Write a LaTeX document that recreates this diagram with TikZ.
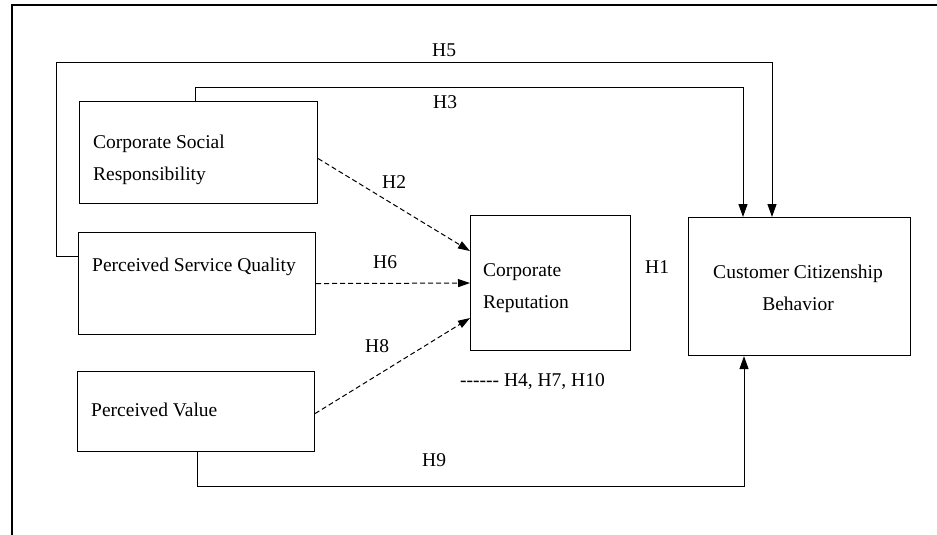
\documentclass[tikz,border=0pt]{standalone}
\usepackage{fontspec}
\setmainfont{Liberation Serif}[Ligatures=TeXOff]
\usetikzlibrary{arrows.meta,calc}
\begin{document}
\begin{tikzpicture}[x=1pt,y=-1pt,
  every node/.style={font=\fontsize{19.5}{31.5}\selectfont},
  box/.style={draw,line width=1.1pt,inner sep=0pt,anchor=north west},
  txt/.style={inner sep=0pt,anchor=base west,align=left},
  hlab/.style={inner sep=0pt,anchor=base west},
  arr/.style={line width=1pt,-{Triangle[length=13pt,width=9pt]}},
  darr/.style={line width=1pt,dash pattern=on 5pt off 3pt,-{Triangle[length=12pt,width=8pt]}},
  frame/.style={line width=1.3pt}]
\useasboundingbox (0,0) rectangle (937,535);
% frame (cropped)
\draw[frame] (937,5) -- (12,5) -- (12,536);
% boxes
\node[box,minimum width=238pt,minimum height=102pt] (csr) at (79,101) {};
\node[box,minimum width=237pt,minimum height=102pt] (psq) at (78,232) {};
\node[box,minimum width=237pt,minimum height=80pt] (pv) at (77,371) {};
\node[box,minimum width=160pt,minimum height=135pt] (cr) at (470,215) {};
\node[box,minimum width=222pt,minimum height=138pt] (ccb) at (688,217) {};
% box texts (base anchor = last line)
\node[txt] (tcsr) at (93,180) {Corporate Social\\Responsibility};
\node[txt] (tpsq) at (92,271) {Perceived Service Quality};
\node[txt] (tpv) at (91,416) {Perceived Value};
\node[txt] (tcr) at (483,308) {Corporate\\Reputation};
\node[inner sep=0pt,anchor=base,align=center] (tccb) at (798,310) {Customer Citizenship\\Behavior};
% coordinates for routed connectors
\coordinate (h3c) at (743,87);
\coordinate (h5c) at (772,63);
\coordinate (h9c) at (744,486);
% solid connectors
\draw[arr] ([xshift=116pt]csr.north west) |- (h3c) -- (h3c |- ccb.north);
\draw[arr] ([yshift=-24pt]psq.north west) -- ++(-22,0) |- (h5c) -- (h5c |- ccb.north);
\draw[arr] ([xshift=120pt]pv.south west) |- (h9c) -- (h9c |- ccb.south);
% dashed connectors
\draw[darr] ([yshift=-6pt]csr.east) -- ([yshift=32pt]cr.west);
\draw[darr] (psq.east) -- (cr.west);
\draw[darr] ([yshift=-2pt]pv.east) -- ([yshift=-35pt]cr.west);
% labels
\node[hlab] (l5) at (432,57) {H5};
\node[hlab] (l3) at (433,108) {H3};
\node[hlab] (l2) at (382,188) {H2};
\node[hlab] (l6) at (373,268) {H6};
\node[hlab] (l8) at (365,352) {H8};
\node[hlab] (l9) at (422,466) {H9};
\node[hlab] (l1) at (645,273) {H1};
\node[hlab] (l4) at (460,386) {------ H4, H7, H10};
\end{tikzpicture}
\end{document}
